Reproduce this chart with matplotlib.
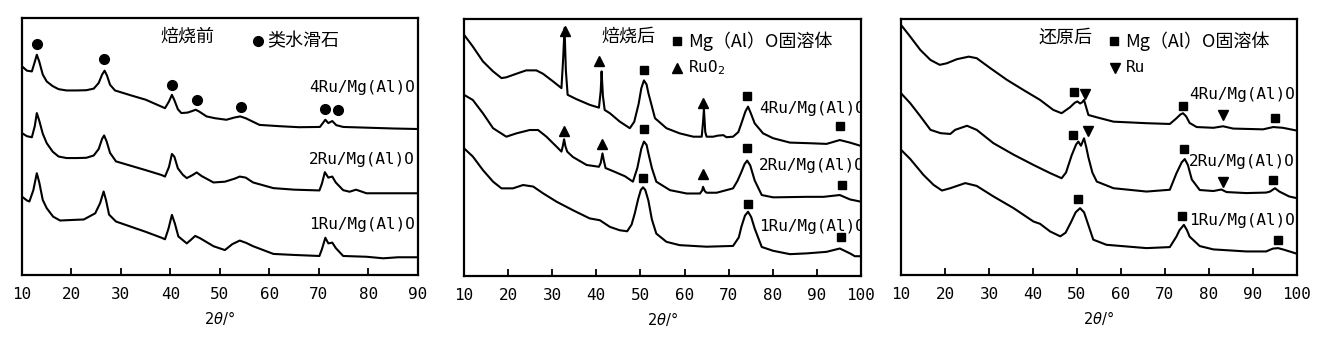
import matplotlib
matplotlib.use('Agg')
import matplotlib.pyplot as plt

# ---------------- data (2theta in deg, intensity in a.u. with offsets) ----------------
# panel 1: before calcination
p1_4ru_x = [10, 11, 12, 12.6, 13.0, 13.5, 14.2, 15.0, 16.2, 17.4, 19, 21, 23, 24.5, 25.5, 26.2, 26.7, 27.2,
            27.8, 28.8, 32, 35, 38.2, 38.9, 39.7, 40.3, 40.8, 41.5, 42.2, 43.5, 44.4, 45.1, 45.8, 47.3, 49,
            51.3, 53, 54.1, 55.2, 58, 62, 66, 70.2, 71.3, 71.9, 72.7, 73.5, 74.9, 80, 85, 90]
p1_4ru_y = [81.2, 79.5, 79.2, 83, 85.7, 83, 78, 75.3, 73.5, 72.3, 71.8, 71.8, 71.9, 72.5, 74.7, 78, 79.5, 77.5,
            74, 71.8, 69.9, 68.2, 65.5, 64.9, 67.5, 70.1, 68, 64.5, 63.0, 63.2, 63.8, 64.3, 63.6, 61.7, 61,
            60.4, 61.3, 61.7, 61, 58.4, 57.9, 57.5, 57.6, 60.4, 59.1, 59.9, 58.3, 57.6, 57.3, 57.0, 56.8]
p1_2ru_x = [10, 11, 12, 12.6, 13.0, 13.5, 14.2, 15.0, 16.2, 17.4, 19, 21, 23, 24.5, 25.5, 26.2, 26.6, 27.1,
            27.8, 29.0, 32, 35, 38.2, 38.9, 39.7, 40.3, 40.8, 41.5, 42.5, 43.3, 44.4, 45.3, 46.3, 48.7, 51,
            53, 54.0, 55.2, 56.7, 60.8, 65, 70.1, 70.6, 71.2, 71.9, 72.7, 73.4, 74.9, 76.2, 77.5, 79.6, 85, 90]
p1_2ru_y = [55.2, 54.0, 53.6, 58, 63.0, 60, 55, 51.3, 48, 46.1, 45.5, 45.5, 45.6, 46.5, 49.0, 53, 54.3, 52,
            47.5, 44.2, 42.5, 40.8, 38.9, 38.3, 42, 47.1, 46, 41.5, 39, 37.7, 38.8, 39.9, 38.5, 36.0, 36.3,
            37.5, 38.3, 37.9, 36.0, 33.8, 33.2, 32.9, 35.5, 40.0, 37.9, 38.3, 36, 33.0, 32.4, 33.2, 31.8, 31.8, 31.8]
p1_1ru_x = [10, 11, 11.5, 12.3, 13.0, 13.5, 14.2, 15, 16.3, 17.7, 20, 22.5, 24.8, 25.8, 26.5, 27.0, 27.6,
            29.0, 32, 35, 38.2, 38.9, 39.6, 40.3, 40.9, 41.6, 43.3, 44.2, 45.0, 46.0, 48.7, 51, 52.5, 54.0,
            55.3, 56.7, 60.8, 65, 70.1, 70.6, 71.3, 71.9, 72.7, 73.4, 74.9, 79.6, 83, 86, 90]
p1_1ru_y = [30.5, 29.0, 28.6, 33, 39.6, 36, 29.2, 26, 22.7, 21.2, 21.4, 21.6, 24.0, 28, 32.5, 29, 23.5,
            20.8, 18.8, 16.8, 14.5, 13.9, 18, 23.4, 20, 15, 12.3, 13.8, 15.2, 14.3, 11.2, 9.7, 12, 13.4,
            12.5, 11.2, 8.2, 7.8, 7.4, 10, 14.5, 12.3, 12.6, 10.5, 7.4, 7.1, 6.5, 6.9, 6.9]
p1_circle_x = [13.0, 26.6, 40.4, 45.3, 54.2, 71.2, 73.9]
p1_circle_y = [90.0, 84.0, 74.0, 68.2, 65.3, 64.5, 64.3]

# panel 2: after calcination
p2_4ru_x = [10, 12, 14.3, 16.6, 18.5, 19.6, 21.9, 24.1, 26.4, 27.9, 30.2, 32.1, 32.5, 32.8, 33.1, 33.5, 35.5,
            38.5, 40.6, 41.0, 41.2, 41.5, 41.9, 43.1, 45.3, 47.6, 48.6, 49.6, 50.2, 50.8, 51.4, 51.8, 52.6,
            53.3, 55.9, 58.9, 62, 63.9, 64.2, 64.4, 64.7, 65.0, 66.5, 67.5, 68.8, 69.5, 71, 72.2, 72.9, 73.8,
            74.4, 75.1, 75.9, 77.8, 80.1, 83.9, 87.7, 92.2, 95.2, 97.5, 100]
p2_4ru_y = [93.9, 89.3, 83.5, 79.6, 77.0, 77.3, 78.7, 80.0, 80.0, 78.7, 75.7, 73.1, 85, 96.5, 80, 70.5, 68.8,
            66.6, 65.5, 72, 79.6, 70, 64.6, 63.3, 60.1, 57.5, 60, 67, 73, 76.1, 74.5, 71.2, 66,
            61.4, 57.5, 55.5, 54.2, 54.2, 60, 64.9, 56, 54.2, 54.2, 54.6, 54.8, 54.0, 54.2, 56, 59.4, 64,
            65.9, 63, 59.4, 55.5, 53.6, 51.9, 51.7, 51.4, 52.9, 51.9, 50.6]
p2_2ru_x = [10, 12, 14.3, 16.6, 19.6, 21.9, 24.9, 26.8, 28.7, 31, 32.1, 32.4, 32.7, 33.0, 33.4, 34.7, 37.8,
            40.6, 41.0, 41.4, 41.7, 42.1, 43.8, 46.5, 48.3, 49.3, 50.2, 50.8, 51.4, 51.8, 52.6, 53.6, 56.7,
            60.5, 63.5, 64.0, 64.2, 64.6, 65, 67.3, 71, 72.0, 72.9, 73.6, 74.2, 74.9, 75.9, 77.5, 80.1, 87.7,
            91.5, 95.2, 97.5, 100]
p2_2ru_y = [70.5, 68.5, 63.3, 57.5, 54.2, 55.5, 56.8, 56.8, 54.2, 50.3, 48.4, 50.5, 53.2, 50.5, 48.4, 46.3, 43.2,
            42.5, 44, 47.7, 45, 42.0, 40.8, 38.8, 36.7, 42, 49.5, 52.3, 51, 47.8, 42, 36.7, 33.4,
            32.1, 32.1, 33.3, 34.7, 33.0, 32.4, 32.4, 34.1, 37, 40.5, 43.5, 44.9, 43, 37.2, 31.5, 30.6, 30.8,
            30.8, 31.5, 29.8, 28.9]
p2_1ru_x = [10, 12, 14.3, 16.6, 18.5, 21.1, 23.4, 25.7, 27.9, 31, 34.7, 38.5, 40.8, 43.1, 45.3, 47.0, 48.0,
            48.7, 49.5, 50.1, 50.6, 51.1, 51.8, 52.6, 53.6, 55.9, 58.9, 65, 71, 72.3, 72.9, 73.7, 74.4, 75.1,
            75.9, 77.5, 80.1, 83.9, 87.7, 92.2, 95.2, 97.5, 98.6, 100]
p2_1ru_y = [49.7, 46.5, 41.2, 36.7, 34.1, 34.1, 35.4, 34.8, 32.2, 28.9, 25.6, 22.4, 21.7, 19.1, 17.8, 17.4, 20,
            24.2, 30, 33.5, 34.5, 33.5, 29.4, 22, 16.5, 13.3, 12.0, 11.4, 11.7, 15, 19.2, 23.5, 25.0, 23,
            18.5, 11.3, 9.8, 8.5, 8.8, 9.4, 10.7, 8.8, 7.7, 7.7]
p2_tri_x = [32.8, 40.6, 64.2, 32.7, 41.3, 64.2]
p2_tri_y = [95.2, 83.5, 67.5, 56.6, 51.4, 39.7]
p2_sq_x = [50.8, 74.1, 95.2, 50.8, 74.2, 95.6, 50.6, 74.4, 95.4]
p2_sq_y = [80.0, 70.1, 58.4, 57.1, 49.7, 35.4, 38.2, 28.2, 15.0]

# panel 3: after reduction
p3_4ru_x = [10, 12.1, 14.4, 16.7, 18.8, 20.4, 22.7, 25.4, 27.2, 30.3, 34.1, 37.8, 41.6, 44.6, 46.5, 48.4,
            49.5, 50.1, 50.7, 51.2, 51.6, 52.0, 52.6, 54.5, 58.3, 65.8, 71.1, 72.6, 73.5, 74.1, 74.8, 75.6,
            77.2, 81, 83.2, 85.5, 92.3, 94.6, 96.8, 100]
p3_4ru_y = [97.7, 93.1, 87.9, 84.0, 82.1, 82.7, 84.3, 85.3, 84.7, 80.8, 76.2, 72.3, 68.4, 64.5, 63.2, 65.5,
            67.3, 67.8, 67.0, 67.5, 68.4, 66, 62.5, 61.6, 59.9, 59.3, 59.0, 61.2, 62.7, 63.2, 62, 59.4,
            57.8, 57.5, 58.1, 57.2, 56.9, 57.8, 57.5, 56.4]
p3_2ru_x = [10, 12.1, 14.4, 16.7, 19, 21.2, 22.3, 25, 27.2, 31, 35.6, 40.1, 43.9, 46.5, 47.5, 48.8, 49.8,
            50.3, 50.9, 51.6, 52.1, 52.6, 53.5, 54.5, 58.3, 65.8, 71.1, 72.6, 73.8, 74.5, 75.2, 76.1, 77.9,
            81, 82.8, 84, 88.5, 93, 93.9, 95, 96, 98.2, 100]
p3_2ru_y = [71.0, 67.1, 62.0, 56.7, 55.4, 55.1, 56.7, 58.3, 56.7, 51.5, 47.0, 43.0, 39.8, 37.8, 40, 46.8, 51,
            52.1, 50.5, 53.4, 50, 45.9, 40, 36.5, 33.9, 32.6, 33.3, 39.7, 44, 45.3, 43, 37.3, 33.2,
            32.8, 33.4, 32.4, 32.0, 32.2, 32.6, 33.9, 32.6, 30.7, 30.0]
p3_1ru_x = [10, 12.1, 15.1, 17.4, 19.3, 21.2, 24.6, 27.2, 31, 35.6, 40.1, 41.6, 43.9, 46.2, 47.4, 48.6, 49.7,
            50.7, 51.6, 52.1, 53.7, 56.7, 65.8, 71.1, 72.6, 73.3, 74.3, 75.0, 75.6, 77.9, 81, 88.5, 93, 94.5,
            95.7, 97, 100]
p3_1ru_y = [48.9, 45.3, 39.1, 35.2, 33.0, 33.9, 35.9, 34.8, 30.7, 26.1, 20.9, 20.0, 17.0, 15.1, 16.5, 20.5, 24.5,
            26.1, 24.5, 22, 13.8, 11.8, 10.5, 10.9, 15, 17.5, 19.6, 17.5, 15, 11.3, 10.0, 9.2, 9.2, 10.3,
            10.5, 9.9, 8.3]
p3_sq_x = [49.3, 74.1, 94.9, 49.2, 74.3, 94.6, 50.3, 73.9, 95.7]
p3_sq_y = [71.3, 66.1, 61.5, 54.7, 49.2, 37.2, 29.6, 23.1, 13.8]
p3_dtri_x = [51.8, 83.2, 52.6, 83.2]
p3_dtri_y = [70.6, 62.5, 56.4, 36.5]

samples = ['4Ru/Mg(Al)O', '2Ru/Mg(Al)O', '1Ru/Mg(Al)O']
titles = ['焙烧前', '焙烧后', '还原后']
xticks_1 = [10, 20, 30, 40, 50, 60, 70, 80, 90]
xticks_23 = [10, 20, 30, 40, 50, 60, 70, 80, 90, 100]

CJK = ['Noto Sans CJK SC', 'DejaVu Sans']
MONO = ['DejaVu Sans Mono']

fig = plt.figure(figsize=(13.39, 3.45), dpi=100)
ax1 = fig.add_axes([0.0164, 0.2029, 0.2957, 0.745])
ax2 = fig.add_axes([0.3465, 0.2000, 0.2965, 0.745])
ax3 = fig.add_axes([0.6729, 0.2029, 0.2957, 0.742])


def setup(ax, xmax, ticks):
    ax.set_xlim(10, xmax)
    ax.set_ylim(0, 100)
    ax.set_yticks([])
    ax.set_xticks(ticks)
    ax.set_xticklabels([str(t) for t in ticks], family=MONO, fontsize=11.5)
    ax.tick_params(axis='x', direction='in', length=5, width=1.3, pad=9)
    for s in ax.spines.values():
        s.set_linewidth(1.6)
    ax.set_xlabel(r'2$\theta$/°', fontsize=10.5, labelpad=5)


lw = 1.5
# panel 1
setup(ax1, 90, xticks_1)
ax1.plot(p1_4ru_x, p1_4ru_y, 'k-', lw=lw)
ax1.plot(p1_2ru_x, p1_2ru_y, 'k-', lw=lw)
ax1.plot(p1_1ru_x, p1_1ru_y, 'k-', lw=lw)
ax1.plot(p1_circle_x, p1_circle_y, 'ko', ms=7)
ax1.text(43.4, 92.9, titles[0], family=CJK, fontsize=13, ha='center', va='center')
ax1.plot([57.7], [90.9], 'ko', ms=7)
ax1.text(59.6, 90.9, '类水滑石', family=CJK, fontsize=13, ha='left', va='center')
for lab, y in zip(samples, [73.1, 44.8, 19.7]):
    ax1.text(89.4, y, lab, family=MONO, fontsize=11.5, ha='right', va='center')

# panel 2
setup(ax2, 100, xticks_23)
ax2.plot(p2_4ru_x, p2_4ru_y, 'k-', lw=lw)
ax2.plot(p2_2ru_x, p2_2ru_y, 'k-', lw=lw)
ax2.plot(p2_1ru_x, p2_1ru_y, 'k-', lw=lw)
ax2.plot(p2_tri_x, p2_tri_y, 'k^', ms=7)
ax2.plot(p2_sq_x, p2_sq_y, 'ks', ms=6)
ax2.text(47.2, 93.0, titles[1], family=CJK, fontsize=13, ha='center', va='center')
ax2.plot([58.3], [91.4], 'ks', ms=6)
ax2.text(60.8, 91.4, 'Mg（Al）O固溶体', family=CJK, fontsize=13, ha='left', va='center')
ax2.plot([58.3], [80.9], 'k^', ms=7)
ax2.text(60.8, 80.9, r'RuO$_2$', family=MONO, fontsize=11.5, ha='left', va='center')
for lab, y in zip(samples, [65.3, 42.9, 19.4]):
    ax2.text(100.9, y, lab, family=MONO, fontsize=11.5, ha='right', va='center', clip_on=True)

# panel 3
setup(ax3, 100, xticks_23)
ax3.plot(p3_4ru_x, p3_4ru_y, 'k-', lw=lw)
ax3.plot(p3_2ru_x, p3_2ru_y, 'k-', lw=lw)
ax3.plot(p3_1ru_x, p3_1ru_y, 'k-', lw=lw)
ax3.plot(p3_sq_x, p3_sq_y, 'ks', ms=6)
ax3.plot(p3_dtri_x, p3_dtri_y, 'kv', ms=7)
ax3.text(47.4, 92.8, titles[2], family=CJK, fontsize=13, ha='center', va='center')
ax3.plot([58.3], [91.5], 'ks', ms=6)
ax3.text(60.9, 91.5, 'Mg（Al）O固溶体', family=CJK, fontsize=13, ha='left', va='center')
ax3.plot([58.6], [81.0], 'kv', ms=7)
ax3.text(61.0, 81.0, 'Ru', family=MONO, fontsize=11.5, ha='left', va='center')
for lab, y in zip(samples, [70.4, 44.3, 21.2]):
    ax3.text(99.6, y, lab, family=MONO, fontsize=11.5, ha='right', va='center')

fig.savefig('out.png', dpi=100, facecolor='w')
